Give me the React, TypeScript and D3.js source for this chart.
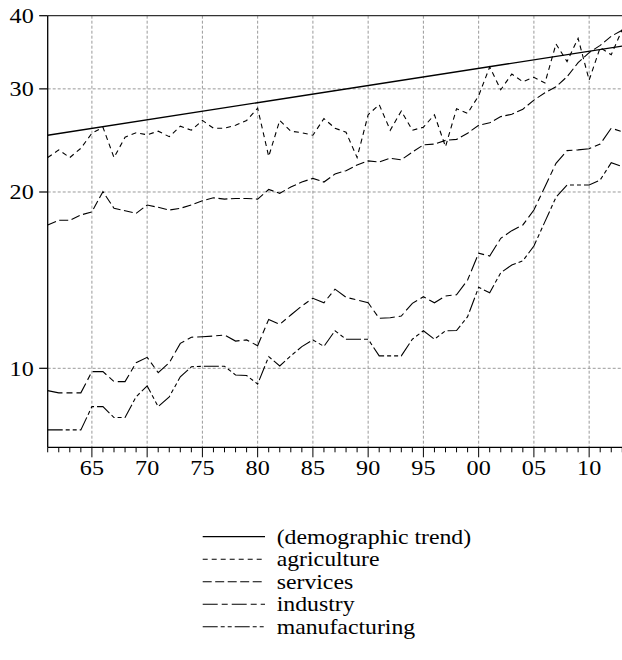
import React from 'react';
import * as d3 from 'd3';

// Annual index values, 1961–2013 (log scale)
const years = [
  1961, 1962, 1963, 1964, 1965, 1966, 1967, 1968, 1969, 1970,
  1971, 1972, 1973, 1974, 1975, 1976, 1977, 1978, 1979, 1980,
  1981, 1982, 1983, 1984, 1985, 1986, 1987, 1988, 1989, 1990,
  1991, 1992, 1993, 1994, 1995, 1996, 1997, 1998, 1999, 2000,
  2001, 2002, 2003, 2004, 2005, 2006, 2007, 2008, 2009, 2010,
  2011, 2012, 2013,
];

const agriculture = [
  22.9, 23.6, 22.9, 23.75, 25.2, 25.8, 22.9, 24.8, 25.25, 25.05,
  25.4, 24.86, 25.9, 25.5, 26.5, 25.7, 25.7, 26.0, 26.5, 27.8,
  23.0, 26.5, 25.4, 25.25, 25.0, 26.7, 25.7, 25.3, 22.9, 27.1,
  28.2, 25.5, 27.5, 25.5, 25.8, 27.1, 23.9, 27.75, 27.25, 29.2,
  32.7, 29.9, 31.8, 30.85, 31.4, 30.7, 35.8, 33.4, 36.6, 31.05,
  35.3, 34.3, 37.9,
];

const services = [
  17.57, 17.9, 17.9, 18.27, 18.5, 20.03, 18.76, 18.58, 18.39, 19.0,
  18.83, 18.63, 18.76, 19.0, 19.32, 19.55, 19.45, 19.5, 19.5, 19.45,
  20.2, 19.9, 20.4, 20.8, 21.1, 20.8, 21.47, 21.75, 22.24, 22.6,
  22.5, 22.84, 22.7, 23.4, 24.07, 24.15, 24.5, 24.6, 25.2, 26.0,
  26.25, 26.9, 27.15, 27.7, 28.7, 29.55, 30.25, 31.47, 33.25, 34.6,
  35.6, 36.9, 37.8,
];

const industry = [
  9.16, 9.08, 9.08, 9.08, 9.87, 9.87, 9.49, 9.49, 10.22, 10.44,
  9.83, 10.22, 11.03, 11.3, 11.32, 11.35, 11.4, 11.13, 11.18, 10.93,
  12.12, 11.89, 12.33, 12.78, 13.17, 12.94, 13.65, 13.22, 13.08, 12.94,
  12.17, 12.2, 12.28, 12.91, 13.25, 12.94, 13.29, 13.35, 14.15, 15.72,
  15.55, 16.67, 17.18, 17.57, 18.63, 20.42, 22.39, 23.53, 23.6, 23.71,
  24.15, 25.7, 25.35,
];

const manufacturing = [
  7.85, 7.85, 7.85, 7.85, 8.6, 8.6, 8.24, 8.24, 8.94, 9.33,
  8.6, 8.94, 9.67, 10.06, 10.08, 10.08, 10.08, 9.74, 9.72, 9.4,
  10.47, 10.09, 10.5, 10.89, 11.18, 10.9, 11.59, 11.21, 11.21, 11.21,
  10.5, 10.5, 10.5, 11.21, 11.59, 11.21, 11.59, 11.6, 12.25, 13.75,
  13.46, 14.56, 15.01, 15.26, 16.17, 17.8, 19.59, 20.56, 20.56, 20.56,
  20.97, 22.44, 22.09,
];

// Exponential demographic trend, defined by its end points
const trendYears = [1961, 2013];
const trendValues = [25.0, 35.5];

const yTicks = [10, 20, 30, 40];
const xMajorYears = [1965, 1970, 1975, 1980, 1985, 1990, 1995, 2000, 2005, 2010];
const xTickLabels = ['65', '70', '75', '80', '85', '90', '95', '00', '05', '10'];

const legendLabels = ['(demographic trend)', 'agriculture', 'services', 'industry', 'manufacturing'];

const W = 622;
const H = 660;
const M = { left: 47.7, right: 622.3, top: 15.7, bottom: 447.3 };
const FONT = '"Liberation Serif", "Times New Roman", serif';

export default function App() {
  const x = d3.scaleLinear().domain([1961, 2013]).range([M.left, M.right]);
  const y = d3.scaleLog().domain([7.33, 40]).range([M.bottom, M.top]);
  const line = d3
    .line<[number, number]>()
    .x((d) => x(d[0]))
    .y((d) => y(d[1]));

  const zip = (vals: number[]) => years.map((yr, i) => [yr, vals[i]] as [number, number]);
  const trendPts = trendYears.map((yr, i) => [yr, trendValues[i]] as [number, number]);

  const series = [
    { label: legendLabels[0], d: line(trendPts), dash: '', width: 1.3 },
    { label: legendLabels[1], d: line(zip(agriculture)), dash: '5,4', width: 1.1 },
    { label: legendLabels[2], d: line(zip(services)), dash: '9,3.5', width: 1.1 },
    { label: legendLabels[3], d: line(zip(industry)), dash: '15,4,6,4', width: 1.1 },
    { label: legendLabels[4], d: line(zip(manufacturing)), dash: '15,3,4,3,4,3', width: 1.1 },
  ];

  const minorYears = d3.range(1961, 2014);
  const gridColor = '#9a9a9a';

  return (
    <svg
      width={W}
      height={H}
      viewBox={`0 0 ${W} ${H}`}
      style={{ position: 'absolute', left: 0, top: 0, background: '#fff' }}
      fontFamily={FONT}
    >
      {/* grid */}
      {yTicks
        .filter((t) => t < 40)
        .map((t) => (
          <line
            key={`gy${t}`}
            x1={M.left}
            x2={M.right}
            y1={y(t)}
            y2={y(t)}
            stroke={gridColor}
            strokeWidth={1}
            strokeDasharray="3,2"
          />
        ))}
      {xMajorYears.map((yr) => (
        <line
          key={`gx${yr}`}
          x1={x(yr)}
          x2={x(yr)}
          y1={M.top}
          y2={M.bottom}
          stroke={gridColor}
          strokeWidth={1}
          strokeDasharray="3,2"
        />
      ))}

      {/* frame */}
      <line x1={M.left} x2={M.right} y1={M.top} y2={M.top} stroke="#333" strokeWidth={1.3} />
      <line x1={M.left} x2={M.left} y1={M.top} y2={M.bottom} stroke="#000" strokeWidth={1.3} />
      <line x1={M.left} x2={M.right} y1={M.bottom} y2={M.bottom} stroke="#000" strokeWidth={1.3} />

      {/* y axis */}
      {yTicks.map((t) => (
        <g key={`yt${t}`}>
          <line x1={M.left - 8.5} x2={M.left} y1={y(t)} y2={y(t)} stroke="#000" strokeWidth={1.2} />
          <text
            transform={`translate(${M.left - 14},${y(t) + 7.5}) scale(1.15,1)`}
            textAnchor="end"
            fontSize={21}
            fill="#000"
          >
            {t}
          </text>
        </g>
      ))}

      {/* x axis */}
      {minorYears.map((yr) => {
        const major = xMajorYears.includes(yr);
        return (
          <line
            key={`xt${yr}`}
            x1={x(yr)}
            x2={x(yr)}
            y1={M.bottom}
            y2={M.bottom + (major ? 10 : 5)}
            stroke="#000"
            strokeWidth={1}
          />
        );
      })}
      {xMajorYears.map((yr, i) => (
        <text
          key={`xl${yr}`}
          transform={`translate(${x(yr)},${M.bottom + 27.5}) scale(1.15,1)`}
          textAnchor="middle"
          fontSize={21}
          fill="#000"
        >
          {xTickLabels[i]}
        </text>
      ))}

      {/* series */}
      {series.map((s) => (
        <path
          key={s.label}
          d={s.d ?? ''}
          fill="none"
          stroke="#000"
          strokeWidth={s.width}
          strokeDasharray={s.dash || undefined}
        />
      ))}

      {/* legend */}
      {series.map((s, i) => {
        const ly = 536.7 + i * 22.5;
        return (
          <g key={`lg${s.label}`}>
            <line
              x1={202.7}
              x2={265}
              y1={ly}
              y2={ly}
              stroke="#000"
              strokeWidth={s.width}
              strokeDasharray={s.dash || undefined}
            />
            <text
              transform={`translate(276.7,${ly + 7}) scale(1.08,1)`}
              fontSize={22}
              fill="#000"
            >
              {s.label}
            </text>
          </g>
        );
      })}
    </svg>
  );
}
